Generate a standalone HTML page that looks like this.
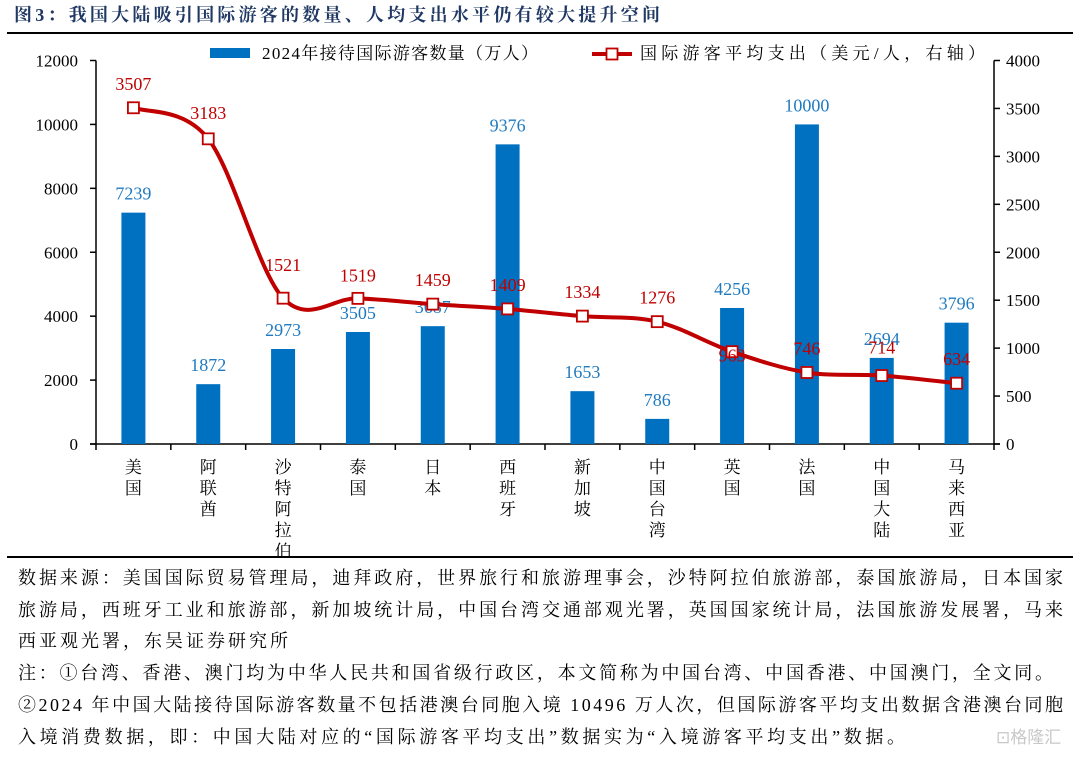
<!DOCTYPE html>
<html><head><meta charset="utf-8">
<style>
body{margin:0;background:#fff;width:1080px;height:758px;overflow:hidden;font-family:"Liberation Serif","Noto Serif CJK SC",serif;}
.rule{position:absolute;left:7px;width:1066px;height:2px;background:#000;}
</style></head><body>
<svg width="1080" height="32" style="position:absolute;left:0;top:0">
<text x="14" y="21" font-size="18" font-weight="bold" fill="#1f3864" textLength="646" lengthAdjust="spacing" font-family='"Liberation Serif","Noto Serif CJK SC",serif'>图3：我国大陆吸引国际游客的数量、人均支出水平仍有较大提升空间</text>
</svg>
<div class="rule" style="top:32px"></div>
<svg id="chart" width="1080" height="556" style="position:absolute;left:0;top:0"></svg>
<div class="rule" style="top:556px"></div>
<svg width="1080" height="200" style="position:absolute;left:0;top:558px" font-family='"Liberation Serif","Noto Serif CJK SC",serif' font-size="18">
<g>
<text x="18" y="26" textLength="1045" lengthAdjust="spacing">数据来源：美国国际贸易管理局，迪拜政府，世界旅行和旅游理事会，沙特阿拉伯旅游部，泰国旅游局，日本国家</text>
<text x="18" y="58" textLength="1045" lengthAdjust="spacing">旅游局，西班牙工业和旅游部，新加坡统计局，中国台湾交通部观光署，英国国家统计局，法国旅游发展署，马来</text>
<text x="18" y="89" textLength="270" lengthAdjust="spacing">西亚观光署，东吴证券研究所</text>
</g>
<g>
<text x="18" y="121" textLength="1035" lengthAdjust="spacing">注：①台湾、香港、澳门均为中华人民共和国省级行政区，本文简称为中国台湾、中国香港、中国澳门，全文同。</text>
<text x="18" y="153" textLength="1045" lengthAdjust="spacing">②2024 年中国大陆接待国际游客数量不包括港澳台同胞入境 10496 万人次，但国际游客平均支出数据含港澳台同胞</text>
<text x="18" y="185" textLength="887" lengthAdjust="spacing">入境消费数据，即：中国大陆对应的“国际游客平均支出”数据实为“入境游客平均支出”数据。</text>
</g>
<text x="996" y="185" font-size="17" fill="#c8c8c8" font-family='"Noto Sans CJK SC",sans-serif'>⊡格隆汇</text>
</svg>
<script>
const categories=["美国","阿联酋","沙特阿拉伯","泰国","日本","西班牙","新加坡","中国台湾","英国","法国","中国大陆","马来西亚"];
const visitors=[7239,1872,2973,3505,3687,9376,1653,786,4256,10000,2694,3796];
const spending=[3507,3183,1521,1519,1459,1409,1334,1276,963,746,714,634];
const leftTicks=[0,2000,4000,6000,8000,10000,12000];
const rightTicks=[0,500,1000,1500,2000,2500,3000,3500,4000];
const spendLabelDy=[-24,-26,-33,-23,-24,-24,-24,-24,4,-24,-28,-24];
const NS="http://www.w3.org/2000/svg";
const svg=document.getElementById('chart');
const X0=96,X1=994,Y0=444,Y1=60.5;
const step=(X1-X0)/categories.length;
const xc=i=>X0+step*(i+0.5);
const yl=v=>Y0-(v/12000)*(Y0-Y1);
const yr=v=>Y0-(v/4000)*(Y0-Y1);
function el(t,a,p){const e=document.createElementNS(NS,t);for(const k in a)e.setAttribute(k,a[k]);(p||svg).appendChild(e);return e;}
function txt(x,y,s,a,p){const e=el('text',Object.assign({x:x,y:y,'font-size':17,'font-family':'"Liberation Serif","Noto Serif CJK SC",serif'},a),p);e.textContent=s;return e;}
let ax=el('line',{x1:X0,y1:Y1,x2:X0,y2:Y0,stroke:'#000','stroke-width':1.5});

ax=el('line',{x1:X1,y1:Y1,x2:X1,y2:Y0,stroke:'#000','stroke-width':1.5});

ax=el('line',{x1:X0-6,y1:Y0,x2:X1+6,y2:Y0,stroke:'#000','stroke-width':1.5});

leftTicks.forEach(v=>{el('line',{x1:X0-6,x2:X0,y1:yl(v),y2:yl(v),stroke:'#000','stroke-width':1.5});
 const t=txt(X0-18,yl(v)+6,String(v),{'text-anchor':'end'});
 });
rightTicks.forEach(v=>{el('line',{x1:X1,x2:X1+6,y1:yr(v),y2:yr(v),stroke:'#000','stroke-width':1.5});
 const t=txt(X1+12,yr(v)+6,String(v),{'text-anchor':'start'});
 });
for(let i=0;i<=categories.length;i++){el('line',{x1:X0+step*i,x2:X0+step*i,y1:Y0,y2:Y0+6,stroke:'#000','stroke-width':1.5});}
categories.forEach((c,i)=>{[...c].forEach((ch,j)=>{const t=txt(xc(i),473+j*21,ch,{'text-anchor':'middle'});
 });});
visitors.forEach((v,i)=>{const r=el('rect',{x:xc(i)-12,y:yl(v),width:24,height:Y0-yl(v),fill:'#0070c0'});
 
 const t=txt(xc(i),yl(v)-13,String(v),{'text-anchor':'middle',fill:'#1f7ac0','font-size':18});
 });
const pts=spending.map((v,i)=>[xc(i),yr(v)]);
let d='M'+pts[0][0]+','+pts[0][1];
for(let i=0;i<pts.length-1;i++){const p0=pts[i-1]||pts[i],p1=pts[i],p2=pts[i+1],p3=pts[i+2]||p2;const k=1/6;
 d+=` C${p1[0]+(p2[0]-p0[0])*k},${p1[1]+(p2[1]-p0[1])*k} ${p2[0]-(p3[0]-p1[0])*k},${p2[1]-(p3[1]-p1[1])*k} ${p2[0]},${p2[1]}`;}
const line=el('path',{d:d,fill:'none',stroke:'#c00000','stroke-width':4});

pts.forEach((p,i)=>{const m=el('rect',{x:p[0]-5.5,y:p[1]-5.5,width:11,height:11,fill:'#fff',stroke:'#c00000','stroke-width':1.8});
 
 const t=txt(p[0],p[1]+spendLabelDy[i]+6,String(spending[i]),{'text-anchor':'middle',fill:'#c00000','font-size':18});
 });
const lg=el('g',{});

el('rect',{x:210,y:48,width:40,height:10,fill:'#0070c0'},lg);
txt(262,59,'2024年接待国际游客数量（万人）',{textLength:276,lengthAdjust:'spacing'},lg);
el('line',{x1:592,x2:632,y1:54,y2:54,stroke:'#c00000','stroke-width':4},lg);
el('rect',{x:606.5,y:48.5,width:11,height:11,fill:'#fff',stroke:'#c00000','stroke-width':1.8},lg);
txt(640,59,'国际游客平均支出（美元/人，右轴）',{textLength:345,lengthAdjust:'spacing'},lg);
</script>
</body></html>
